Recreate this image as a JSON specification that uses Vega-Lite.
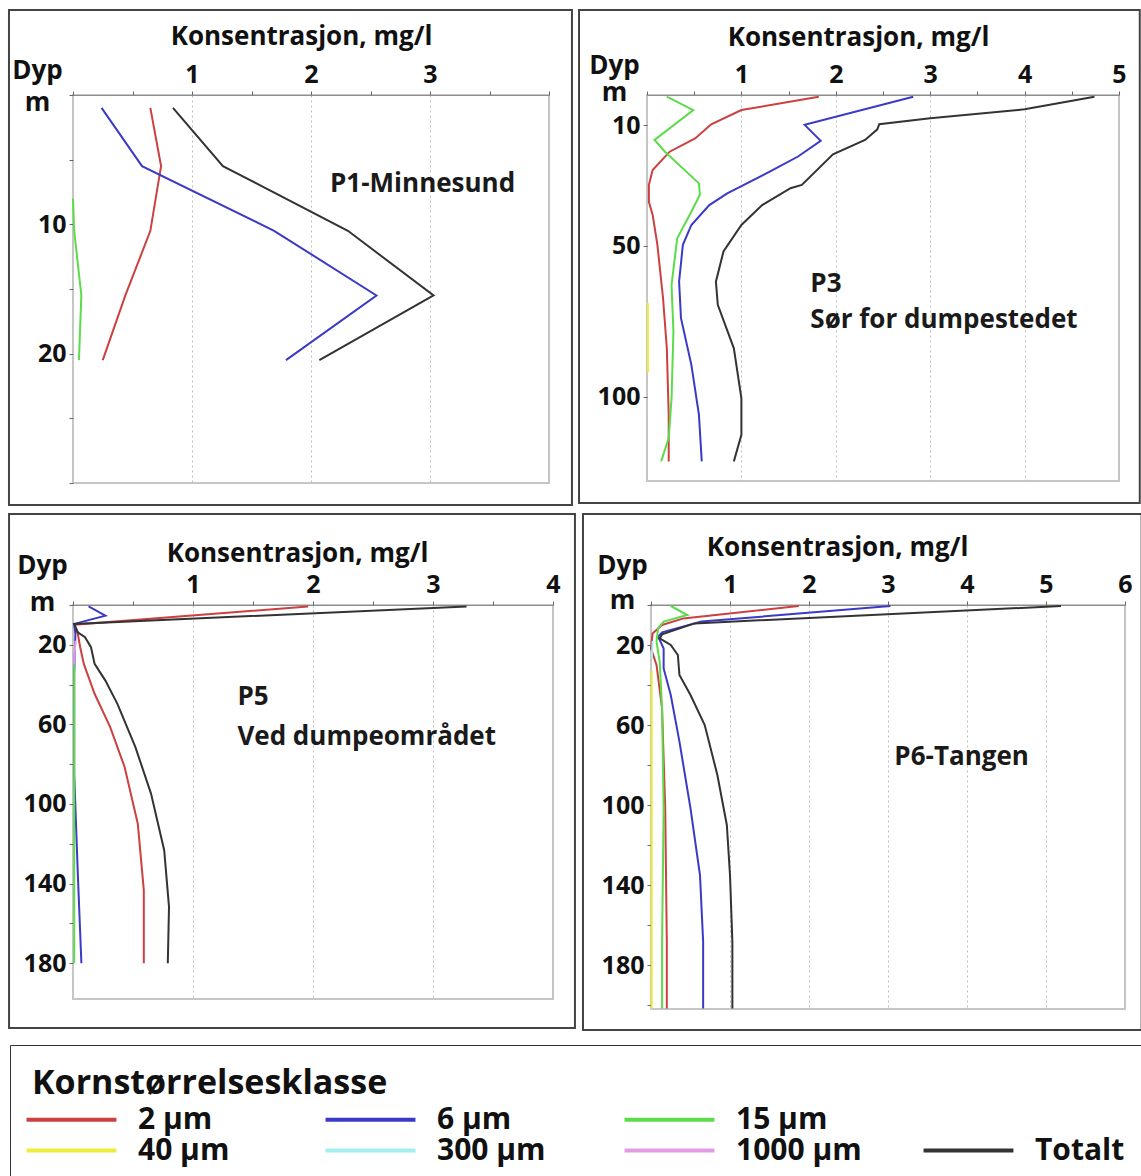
{
 "$schema": "https://vega.github.io/schema/vega-lite/v6.json",
 "background": "white",
 "padding": {"left": 6, "top": 7, "right": 0, "bottom": 0},
 "data": {"values": [
  {"panel":"P1","size":"2 µm","depth":1,"value":0.65},
  {"panel":"P1","size":"2 µm","depth":5.5,"value":0.74},
  {"panel":"P1","size":"2 µm","depth":10.5,"value":0.65},
  {"panel":"P1","size":"2 µm","depth":15.5,"value":0.44},
  {"panel":"P1","size":"2 µm","depth":20.5,"value":0.25},
  {"panel":"P1","size":"6 µm","depth":1,"value":0.24},
  {"panel":"P1","size":"6 µm","depth":5.5,"value":0.58},
  {"panel":"P1","size":"6 µm","depth":10.5,"value":1.69},
  {"panel":"P1","size":"6 µm","depth":15.5,"value":2.55},
  {"panel":"P1","size":"6 µm","depth":20.5,"value":1.79},
  {"panel":"P1","size":"15 µm","depth":8,"value":0.0},
  {"panel":"P1","size":"15 µm","depth":10.5,"value":0.01},
  {"panel":"P1","size":"15 µm","depth":15.5,"value":0.07},
  {"panel":"P1","size":"15 µm","depth":20.5,"value":0.05},
  {"panel":"P1","size":"Totalt","depth":1,"value":0.84},
  {"panel":"P1","size":"Totalt","depth":5.5,"value":1.26},
  {"panel":"P1","size":"Totalt","depth":10.5,"value":2.31},
  {"panel":"P1","size":"Totalt","depth":15.5,"value":3.03},
  {"panel":"P1","size":"Totalt","depth":20.5,"value":2.07},

  {"panel":"P3","size":"2 µm","depth":0.55,"value":1.82},
  {"panel":"P3","size":"2 µm","depth":5,"value":1.0},
  {"panel":"P3","size":"2 µm","depth":9.7,"value":0.68},
  {"panel":"P3","size":"2 µm","depth":14.4,"value":0.51},
  {"panel":"P3","size":"2 µm","depth":18.8,"value":0.24},
  {"panel":"P3","size":"2 µm","depth":24.9,"value":0.06},
  {"panel":"P3","size":"2 µm","depth":29.8,"value":0.02},
  {"panel":"P3","size":"2 µm","depth":35.4,"value":0.02},
  {"panel":"P3","size":"2 µm","depth":39.8,"value":0.06},
  {"panel":"P3","size":"2 µm","depth":49.7,"value":0.11},
  {"panel":"P3","size":"2 µm","depth":67.4,"value":0.17},
  {"panel":"P3","size":"2 µm","depth":84,"value":0.21},
  {"panel":"P3","size":"2 µm","depth":106,"value":0.23},
  {"panel":"P3","size":"2 µm","depth":121.5,"value":0.23},
  {"panel":"P3","size":"6 µm","depth":0.55,"value":2.82},
  {"panel":"P3","size":"6 µm","depth":9.9,"value":1.67},
  {"panel":"P3","size":"6 µm","depth":15.2,"value":1.84},
  {"panel":"P3","size":"6 µm","depth":20.4,"value":1.6},
  {"panel":"P3","size":"6 µm","depth":25.4,"value":1.3},
  {"panel":"P3","size":"6 µm","depth":32.6,"value":0.85},
  {"panel":"P3","size":"6 µm","depth":36.5,"value":0.66},
  {"panel":"P3","size":"6 µm","depth":43.1,"value":0.47},
  {"panel":"P3","size":"6 µm","depth":49.7,"value":0.38},
  {"panel":"P3","size":"6 µm","depth":61.9,"value":0.34},
  {"panel":"P3","size":"6 µm","depth":74,"value":0.36},
  {"panel":"P3","size":"6 µm","depth":89.5,"value":0.47},
  {"panel":"P3","size":"6 µm","depth":106,"value":0.55},
  {"panel":"P3","size":"6 µm","depth":121.5,"value":0.58},
  {"panel":"P3","size":"15 µm","depth":0.55,"value":0.21},
  {"panel":"P3","size":"15 µm","depth":5,"value":0.49},
  {"panel":"P3","size":"15 µm","depth":14.9,"value":0.08},
  {"panel":"P3","size":"15 µm","depth":18.8,"value":0.19},
  {"panel":"P3","size":"15 µm","depth":29.3,"value":0.55},
  {"panel":"P3","size":"15 µm","depth":33.1,"value":0.56},
  {"panel":"P3","size":"15 µm","depth":38.7,"value":0.47},
  {"panel":"P3","size":"15 µm","depth":47.5,"value":0.32},
  {"panel":"P3","size":"15 µm","depth":63,"value":0.26},
  {"panel":"P3","size":"15 µm","depth":78.5,"value":0.28},
  {"panel":"P3","size":"15 µm","depth":100.6,"value":0.26},
  {"panel":"P3","size":"15 µm","depth":113.8,"value":0.23},
  {"panel":"P3","size":"15 µm","depth":121.5,"value":0.15},
  {"panel":"P3","size":"40 µm","depth":69,"value":0.01},
  {"panel":"P3","size":"40 µm","depth":92,"value":0.01},
  {"panel":"P3","size":"Totalt","depth":0.55,"value":4.74},
  {"panel":"P3","size":"Totalt","depth":4.75,"value":4.0},
  {"panel":"P3","size":"Totalt","depth":7.7,"value":3.0},
  {"panel":"P3","size":"Totalt","depth":9.7,"value":2.46},
  {"panel":"P3","size":"Totalt","depth":11.4,"value":2.44},
  {"panel":"P3","size":"Totalt","depth":14.9,"value":2.31},
  {"panel":"P3","size":"Totalt","depth":19.7,"value":1.97},
  {"panel":"P3","size":"Totalt","depth":29.8,"value":1.64},
  {"panel":"P3","size":"Totalt","depth":30.9,"value":1.52},
  {"panel":"P3","size":"Totalt","depth":36.5,"value":1.22},
  {"panel":"P3","size":"Totalt","depth":43.1,"value":1.0},
  {"panel":"P3","size":"Totalt","depth":51.9,"value":0.81},
  {"panel":"P3","size":"Totalt","depth":61.9,"value":0.73},
  {"panel":"P3","size":"Totalt","depth":69.6,"value":0.75},
  {"panel":"P3","size":"Totalt","depth":84,"value":0.92},
  {"panel":"P3","size":"Totalt","depth":100.6,"value":1.0},
  {"panel":"P3","size":"Totalt","depth":112.7,"value":1.0},
  {"panel":"P3","size":"Totalt","depth":121.5,"value":0.92},

  {"panel":"P5","size":"2 µm","depth":0.7,"value":1.96},
  {"panel":"P5","size":"2 µm","depth":9.9,"value":0.01},
  {"panel":"P5","size":"2 µm","depth":14.5,"value":0.04},
  {"panel":"P5","size":"2 µm","depth":21.2,"value":0.06},
  {"panel":"P5","size":"2 µm","depth":29.6,"value":0.09},
  {"panel":"P5","size":"2 µm","depth":44.6,"value":0.18},
  {"panel":"P5","size":"2 µm","depth":61.4,"value":0.31},
  {"panel":"P5","size":"2 µm","depth":81.4,"value":0.43},
  {"panel":"P5","size":"2 µm","depth":109.9,"value":0.54},
  {"panel":"P5","size":"2 µm","depth":143.3,"value":0.59},
  {"panel":"P5","size":"2 µm","depth":180,"value":0.59},
  {"panel":"P5","size":"6 µm","depth":0.7,"value":0.13},
  {"panel":"P5","size":"6 µm","depth":5.4,"value":0.27},
  {"panel":"P5","size":"6 µm","depth":9.5,"value":0.01},
  {"panel":"P5","size":"6 µm","depth":14.5,"value":0.02},
  {"panel":"P5","size":"6 µm","depth":34.6,"value":0.01},
  {"panel":"P5","size":"6 µm","depth":84.8,"value":0.01},
  {"panel":"P5","size":"6 µm","depth":135,"value":0.04},
  {"panel":"P5","size":"6 µm","depth":180,"value":0.07},
  {"panel":"P5","size":"15 µm","depth":30,"value":0.01},
  {"panel":"P5","size":"15 µm","depth":180,"value":0.01},
  {"panel":"P5","size":"1000 µm","depth":18,"value":0.02},
  {"panel":"P5","size":"1000 µm","depth":30,"value":0.01},
  {"panel":"P5","size":"Totalt","depth":0.7,"value":3.28},
  {"panel":"P5","size":"Totalt","depth":9.5,"value":0.01},
  {"panel":"P5","size":"Totalt","depth":13.7,"value":0.04},
  {"panel":"P5","size":"Totalt","depth":16.2,"value":0.1},
  {"panel":"P5","size":"Totalt","depth":21.2,"value":0.15},
  {"panel":"P5","size":"Totalt","depth":29.6,"value":0.18},
  {"panel":"P5","size":"Totalt","depth":38,"value":0.27},
  {"panel":"P5","size":"Totalt","depth":49.7,"value":0.37},
  {"panel":"P5","size":"Totalt","depth":71.4,"value":0.52},
  {"panel":"P5","size":"Totalt","depth":94.8,"value":0.65},
  {"panel":"P5","size":"Totalt","depth":123.2,"value":0.76},
  {"panel":"P5","size":"Totalt","depth":151.7,"value":0.8},
  {"panel":"P5","size":"Totalt","depth":180,"value":0.79},

  {"panel":"P6","size":"2 µm","depth":0.5,"value":1.87},
  {"panel":"P6","size":"2 µm","depth":6.7,"value":0.41},
  {"panel":"P6","size":"2 µm","depth":10,"value":0.14},
  {"panel":"P6","size":"2 µm","depth":14.2,"value":0.02},
  {"panel":"P6","size":"2 µm","depth":21.7,"value":0.0},
  {"panel":"P6","size":"2 µm","depth":30,"value":0.07},
  {"panel":"P6","size":"2 µm","depth":51.7,"value":0.14},
  {"panel":"P6","size":"2 µm","depth":101.7,"value":0.18},
  {"panel":"P6","size":"2 µm","depth":168.3,"value":0.2},
  {"panel":"P6","size":"2 µm","depth":201.7,"value":0.2},
  {"panel":"P6","size":"6 µm","depth":0.5,"value":3.03},
  {"panel":"P6","size":"6 µm","depth":8.3,"value":0.64},
  {"panel":"P6","size":"6 µm","depth":13.7,"value":0.14},
  {"panel":"P6","size":"6 µm","depth":15.8,"value":0.09},
  {"panel":"P6","size":"6 µm","depth":21.7,"value":0.16},
  {"panel":"P6","size":"6 µm","depth":31.7,"value":0.16},
  {"panel":"P6","size":"6 µm","depth":45,"value":0.25},
  {"panel":"P6","size":"6 µm","depth":68.3,"value":0.36},
  {"panel":"P6","size":"6 µm","depth":101.7,"value":0.5},
  {"panel":"P6","size":"6 µm","depth":135,"value":0.62},
  {"panel":"P6","size":"6 µm","depth":168.3,"value":0.66},
  {"panel":"P6","size":"6 µm","depth":201.7,"value":0.66},
  {"panel":"P6","size":"15 µm","depth":0.5,"value":0.25},
  {"panel":"P6","size":"15 µm","depth":5,"value":0.46},
  {"panel":"P6","size":"15 µm","depth":8.3,"value":0.16},
  {"panel":"P6","size":"15 µm","depth":11.7,"value":0.09},
  {"panel":"P6","size":"15 µm","depth":18.3,"value":0.07},
  {"panel":"P6","size":"15 µm","depth":28.3,"value":0.11},
  {"panel":"P6","size":"15 µm","depth":51.7,"value":0.14},
  {"panel":"P6","size":"15 µm","depth":101.7,"value":0.16},
  {"panel":"P6","size":"15 µm","depth":168.3,"value":0.14},
  {"panel":"P6","size":"15 µm","depth":201.7,"value":0.14},
  {"panel":"P6","size":"40 µm","depth":33,"value":0.01},
  {"panel":"P6","size":"40 µm","depth":201.7,"value":0.01},
  {"panel":"P6","size":"300 µm","depth":18,"value":0.02},
  {"panel":"P6","size":"300 µm","depth":27,"value":0.01},
  {"panel":"P6","size":"Totalt","depth":0.5,"value":5.19},
  {"panel":"P6","size":"Totalt","depth":9.2,"value":0.55},
  {"panel":"P6","size":"Totalt","depth":14.7,"value":0.14},
  {"panel":"P6","size":"Totalt","depth":16.7,"value":0.11},
  {"panel":"P6","size":"Totalt","depth":20,"value":0.25},
  {"panel":"P6","size":"Totalt","depth":25,"value":0.34},
  {"panel":"P6","size":"Totalt","depth":35,"value":0.36},
  {"panel":"P6","size":"Totalt","depth":45,"value":0.5},
  {"panel":"P6","size":"Totalt","depth":60,"value":0.68},
  {"panel":"P6","size":"Totalt","depth":85,"value":0.84},
  {"panel":"P6","size":"Totalt","depth":110,"value":0.96},
  {"panel":"P6","size":"Totalt","depth":135,"value":1.0},
  {"panel":"P6","size":"Totalt","depth":168.3,"value":1.03},
  {"panel":"P6","size":"Totalt","depth":201.7,"value":1.03}
 ]},
 "spacing": 5,
 "vconcat": [
  {"spacing": 3, "hconcat": [
   {"width": 476, "height": 388, "layer": [
    {"data": {"values": [{}]}, "mark": {"type": "rect", "filled": false, "stroke": "#444444", "strokeWidth": 2},
     "encoding": {"x": {"datum": -0.538}, "x2": {"datum": 4.193}, "y": {"datum": -6.57}, "y2": {"datum": 31.7}}},
    {"transform": [{"filter": "datum.panel === 'P1'"}],
     "mark": {"type": "line", "strokeWidth": 2},
     "encoding": {
      "x": {"field": "value", "type": "quantitative", "scale": {"domain": [0, 4], "nice": false, "zero": false},
       "axis": {"orient": "top", "values": [0,0.5,1,1.5,2,2.5,3,3.5,4], "labelExpr": "datum.value > 0 && datum.value < 4 && datum.value % 1 === 0 ? '' + datum.value : ''", "labelPadding": 4, "labelOverlap": false, "grid": true,
        "gridOpacity": {"condition": {"test": "datum.value > 0 && datum.value < 4 && datum.value % 1 === 0", "value": 1}, "value": 0},
        "title": "Konsentrasjon, mg/l", "titleX": 228, "titleY": -51, "titleAlign": "center", "titleBaseline": "alphabetic"}},
      "y": {"field": "depth", "type": "quantitative", "scale": {"domain": [0, 30], "reverse": true, "nice": false, "zero": false},
       "axis": {"values": [0,5,10,15,20,25,30], "labelExpr": "datum.value == 10 || datum.value == 20 ? '' + datum.value : ''",
        "labelPadding": 3, "labelOverlap": false, "domain": false, "grid": false,
        "title": ["Dyp", "m"], "titleAngle": 0, "titleAlign": "center", "titleBaseline": "alphabetic", "titleX": -36, "titleY": -17, "titleLineHeight": 32}},
      "color": {"field": "size", "type": "nominal",
       "scale": {"domain": ["2 µm","6 µm","15 µm"," ","40 µm","300 µm","1000 µm","Totalt"], "range": ["#cc4040","#3a3ac6","#5cdc4a","rgba(0,0,0,0)","#eded3c","#a4eeee","#e39be3","#333333"]},
       "legend": {"title": "Kornstørrelsesklasse", "orient": "none", "legendX": -63, "legendY": 950, "direction": "horizontal", "columns": 4, "gridAlign": "all", "columnPadding": 53, "rowPadding": -4, "padding": 22, "strokeColor": "#333333", "symbolType": "M-3.33,0L3.33,0", "symbolSize": 729, "symbolStrokeWidth": 4, "symbolOffset": 24, "labelOffset": 51, "labelFont": "Open Sans", "labelFontWeight": "bold", "labelFontSize": 30, "labelColor": "#111111", "labelLimit": 0, "titleFont": "Open Sans", "titleFontWeight": "bold", "titleFontSize": 34, "titleColor": "#111111", "titlePadding": 3, "titleLimit": 0}},
      "order": {"field": "depth", "type": "quantitative"}
     }},
    {"data": {"values": [{}]}, "mark": {"type": "text", "align": "left", "baseline": "alphabetic", "font": "Open Sans", "fontWeight": "bold", "fontSize": 26, "color": "#1a1a1a"},
     "encoding": {"x": {"datum": 2.16}, "y": {"datum": 7.5}, "text": {"value": "P1-Minnesund"}}}
   ]},
   {"width": 472, "height": 386, "layer": [
    {"data": {"values": [{}]}, "mark": {"type": "rect", "filled": false, "stroke": "#444444", "strokeWidth": 2},
     "encoding": {"x": {"datum": -0.72}, "x2": {"datum": 5.22}, "y": {"datum": -28.2}, "y2": {"datum": 135.3}}},
    {"transform": [{"filter": "datum.panel === 'P3'"}],
     "mark": {"type": "line", "strokeWidth": 2},
     "encoding": {
      "x": {"field": "value", "type": "quantitative", "scale": {"domain": [0, 5], "nice": false, "zero": false},
       "axis": {"orient": "top", "values": [0,0.5,1,1.5,2,2.5,3,3.5,4,4.5,5], "labelExpr": "datum.value > 0 && datum.value % 1 === 0 ? '' + datum.value : ''", "labelPadding": 4, "labelOverlap": false, "grid": true,
        "gridOpacity": {"condition": {"test": "datum.value > 0 && datum.value < 5 && datum.value % 1 === 0", "value": 1}, "value": 0},
        "title": "Konsentrasjon, mg/l", "titleX": 211, "titleY": -50, "titleAlign": "center", "titleBaseline": "alphabetic"}},
      "y": {"field": "depth", "type": "quantitative", "scale": {"domain": [0, 128], "reverse": true, "nice": false, "zero": false},
       "axis": {"values": [10, 50, 100], "labelPadding": 3, "labelOverlap": false, "domain": false, "grid": false,
        "title": ["Dyp", "m"], "titleAngle": 0, "titleAlign": "center", "titleBaseline": "alphabetic", "titleX": -33, "titleY": -22, "titleLineHeight": 27}},
      "color": {"field": "size", "type": "nominal",
       "scale": {"domain": ["2 µm","6 µm","15 µm"," ","40 µm","300 µm","1000 µm","Totalt"], "range": ["#cc4040","#3a3ac6","#5cdc4a","rgba(0,0,0,0)","#eded3c","#a4eeee","#e39be3","#333333"]},
       "legend": {"title": "Kornstørrelsesklasse", "orient": "none", "legendX": -63, "legendY": 950, "direction": "horizontal", "columns": 4, "gridAlign": "all", "columnPadding": 53, "rowPadding": -4, "padding": 22, "strokeColor": "#333333", "symbolType": "M-3.33,0L3.33,0", "symbolSize": 729, "symbolStrokeWidth": 4, "symbolOffset": 24, "labelOffset": 51, "labelFont": "Open Sans", "labelFontWeight": "bold", "labelFontSize": 30, "labelColor": "#111111", "labelLimit": 0, "titleFont": "Open Sans", "titleFontWeight": "bold", "titleFontSize": 34, "titleColor": "#111111", "titlePadding": 3, "titleLimit": 0}},
      "order": {"field": "depth", "type": "quantitative"}
     }},
    {"data": {"values": [{}]}, "mark": {"type": "text", "align": "left", "baseline": "alphabetic", "font": "Open Sans", "fontWeight": "bold", "fontSize": 26, "color": "#1a1a1a", "lineHeight": 36},
     "encoding": {"x": {"datum": 1.73}, "y": {"datum": 65.3}, "text": {"value": ["P3", "Sør for dumpestedet"]}}}
   ]}
  ]},
  {"spacing": 3, "hconcat": [
   {"width": 480, "height": 394, "layer": [
    {"data": {"values": [{}]}, "mark": {"type": "rect", "filled": false, "stroke": "#444444", "strokeWidth": 2},
     "encoding": {"x": {"datum": -0.533}, "x2": {"datum": 4.183}, "y": {"datum": -45.7}, "y2": {"datum": 212.6}}},
    {"transform": [{"filter": "datum.panel === 'P5'"}],
     "mark": {"type": "line", "strokeWidth": 2},
     "encoding": {
      "x": {"field": "value", "type": "quantitative", "scale": {"domain": [0, 4], "nice": false, "zero": false},
       "axis": {"orient": "top", "values": [0,0.5,1,1.5,2,2.5,3,3.5,4], "labelExpr": "datum.value > 0 && datum.value % 1 === 0 ? '' + datum.value : ''", "labelPadding": 4, "labelOverlap": false, "grid": true,
        "gridOpacity": {"condition": {"test": "datum.value > 0 && datum.value < 4 && datum.value % 1 === 0", "value": 1}, "value": 0},
        "title": "Konsentrasjon, mg/l", "titleX": 224, "titleY": -44, "titleAlign": "center", "titleBaseline": "alphabetic"}},
      "y": {"field": "depth", "type": "quantitative", "scale": {"domain": [0, 198], "reverse": true, "nice": false, "zero": false},
       "axis": {"values": [0,10,20,30,40,50,60,70,80,90,100,110,120,130,140,150,160,170,180,190], "labelExpr": "(datum.value - 20) % 40 === 0 ? '' + datum.value : ''",
        "labelPadding": 3, "labelOverlap": false, "domain": false, "grid": false,
        "title": ["Dyp", "m"], "titleAngle": 0, "titleAlign": "center", "titleBaseline": "alphabetic", "titleX": -31, "titleY": -32, "titleLineHeight": 37}},
      "color": {"field": "size", "type": "nominal",
       "scale": {"domain": ["2 µm","6 µm","15 µm"," ","40 µm","300 µm","1000 µm","Totalt"], "range": ["#cc4040","#3a3ac6","#5cdc4a","rgba(0,0,0,0)","#eded3c","#a4eeee","#e39be3","#333333"]},
       "legend": {"title": "Kornstørrelsesklasse", "orient": "none", "legendX": -63, "legendY": 950, "direction": "horizontal", "columns": 4, "gridAlign": "all", "columnPadding": 53, "rowPadding": -4, "padding": 22, "strokeColor": "#333333", "symbolType": "M-3.33,0L3.33,0", "symbolSize": 729, "symbolStrokeWidth": 4, "symbolOffset": 24, "labelOffset": 51, "labelFont": "Open Sans", "labelFontWeight": "bold", "labelFontSize": 30, "labelColor": "#111111", "labelLimit": 0, "titleFont": "Open Sans", "titleFontWeight": "bold", "titleFontSize": 34, "titleColor": "#111111", "titlePadding": 3, "titleLimit": 0}},
      "order": {"field": "depth", "type": "quantitative"}
     }},
    {"data": {"values": [{}]}, "mark": {"type": "text", "align": "left", "baseline": "alphabetic", "font": "Open Sans", "fontWeight": "bold", "fontSize": 26, "color": "#1a1a1a", "lineHeight": 40},
     "encoding": {"x": {"datum": 1.37}, "y": {"datum": 50.3}, "text": {"value": ["P5", "Ved dumpeområdet"]}}}
   ]},
   {"width": 474, "height": 404, "layer": [
    {"data": {"values": [{}]}, "mark": {"type": "rect", "filled": false, "stroke": "#444444", "strokeWidth": 2},
     "encoding": {"x": {"datum": -0.861}, "x2": {"datum": 6.21}, "y": {"datum": -45.5}, "y2": {"datum": 212.5}}},
    {"transform": [{"filter": "datum.panel === 'P6'"}],
     "mark": {"type": "line", "strokeWidth": 2},
     "encoding": {
      "x": {"field": "value", "type": "quantitative", "scale": {"domain": [0, 6], "nice": false, "zero": false},
       "axis": {"orient": "top", "values": [0,0.5,1,1.5,2,2.5,3,3.5,4,4.5,5,5.5,6], "labelExpr": "datum.value > 0 && datum.value % 1 === 0 ? '' + datum.value : ''", "labelPadding": 4, "labelOverlap": false, "grid": true,
        "gridOpacity": {"condition": {"test": "datum.value > 0 && datum.value < 6 && datum.value % 1 === 0", "value": 1}, "value": 0},
        "title": "Konsentrasjon, mg/l", "titleX": 186, "titleY": -50, "titleAlign": "center", "titleBaseline": "alphabetic"}},
      "y": {"field": "depth", "type": "quantitative", "scale": {"domain": [0, 202], "reverse": true, "nice": false, "zero": false},
       "axis": {"values": [0,10,20,30,40,50,60,70,80,90,100,110,120,130,140,150,160,170,180,190,200], "labelExpr": "(datum.value - 20) % 40 === 0 ? '' + datum.value : ''",
        "labelPadding": 3, "labelOverlap": false, "domain": false, "grid": false,
        "title": ["Dyp", "m"], "titleAngle": 0, "titleAlign": "center", "titleBaseline": "alphabetic", "titleX": -29, "titleY": -32, "titleLineHeight": 35}},
      "color": {"field": "size", "type": "nominal",
       "scale": {"domain": ["2 µm","6 µm","15 µm"," ","40 µm","300 µm","1000 µm","Totalt"], "range": ["#cc4040","#3a3ac6","#5cdc4a","rgba(0,0,0,0)","#eded3c","#a4eeee","#e39be3","#333333"]},
       "legend": {"title": "Kornstørrelsesklasse", "orient": "none", "legendX": -63, "legendY": 950, "direction": "horizontal", "columns": 4, "gridAlign": "all", "columnPadding": 53, "rowPadding": -4, "padding": 22, "strokeColor": "#333333", "symbolType": "M-3.33,0L3.33,0", "symbolSize": 729, "symbolStrokeWidth": 4, "symbolOffset": 24, "labelOffset": 51, "labelFont": "Open Sans", "labelFontWeight": "bold", "labelFontSize": 30, "labelColor": "#111111", "labelLimit": 0, "titleFont": "Open Sans", "titleFontWeight": "bold", "titleFontSize": 34, "titleColor": "#111111", "titlePadding": 3, "titleLimit": 0}},
      "order": {"field": "depth", "type": "quantitative"}
     }},
    {"data": {"values": [{}]}, "mark": {"type": "text", "align": "left", "baseline": "alphabetic", "font": "Open Sans", "fontWeight": "bold", "fontSize": 26, "color": "#1a1a1a"},
     "encoding": {"x": {"datum": 3.08}, "y": {"datum": 80}, "text": {"value": "P6-Tangen"}}}
   ]}
  ]}
 ],
 "config": {
  "font": "Open Sans",
  "view": {"stroke": "#c6c6c6", "strokeWidth": 2},
  "axis": {"labelFont": "Open Sans", "labelFontWeight": "bold", "labelFontSize": 25, "labelColor": "#111111", "titleFont": "Open Sans", "titleFontWeight": "bold", "titleFontSize": 26, "titleColor": "#111111", "tickColor": "#666666", "tickSize": 4, "domainColor": "#8c8c8c", "gridColor": "#bdbdbd", "gridDash": [2, 3], "labelOverlap": false, "labelFlush": false, "labelBound": false}
 }
}
